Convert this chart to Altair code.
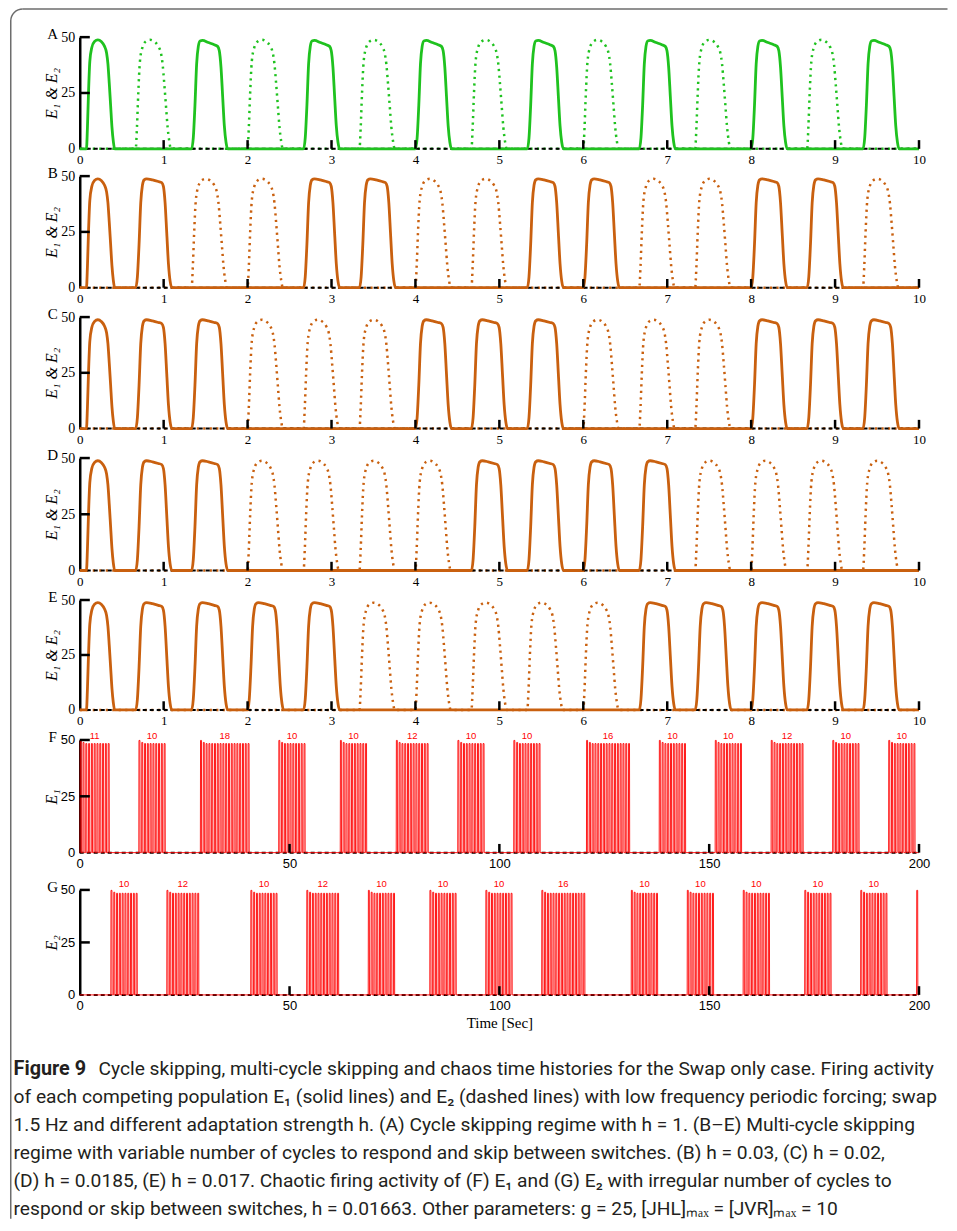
import altair as alt
import pandas as pd

# ---------------- data ----------------
# panels A-E: onset (s) of each forcing cycle (1.5 Hz swap) and which population answers it
onsets_AE = [0.08, 0.667, 1.333, 2.0, 2.667, 3.333, 4.0, 4.667, 5.333, 6.0, 6.667, 7.333, 8.0, 8.667, 9.333]
owner_A = [1, 2, 1, 2, 1, 2, 1, 2, 1, 2, 1, 2, 1, 2, 1]
owner_B = [1, 1, 2, 2, 1, 1, 2, 2, 1, 1, 2, 2, 1, 1, 2]
owner_C = [1, 1, 1, 2, 2, 2, 1, 1, 1, 2, 2, 2, 1, 1, 1]
owner_D = [1, 1, 1, 2, 2, 2, 2, 1, 1, 1, 1, 2, 2, 2, 2]
owner_E = [1, 1, 1, 1, 1, 2, 2, 2, 2, 2, 1, 1, 1, 1, 1]
peak_AE = 48.8

# pulse outlines (time after onset, fraction of peak)
flat_dt = [0, 0.02, 0.04, 0.06, 0.08, 0.10, 0.13, 0.20, 0.27, 0.31, 0.33, 0.35, 0.37, 0.39, 0.41, 0.43]
flat_v = [0, 0.10, 0.40, 0.78, 0.94, 0.99, 1.00, 0.99, 0.975, 0.965, 0.93, 0.78, 0.50, 0.22, 0.06, 0]
flat_A_v = [0, 0.10, 0.40, 0.78, 0.94, 0.99, 0.995, 0.975, 0.955, 0.94, 0.90, 0.75, 0.48, 0.21, 0.06, 0]
round_dt = [0, 0.015, 0.03, 0.05, 0.08, 0.12, 0.17, 0.22, 0.27, 0.30, 0.32, 0.34, 0.36, 0.38, 0.40, 0.42]
round_v = [0, 0.20, 0.50, 0.80, 0.93, 0.985, 1.00, 0.985, 0.94, 0.88, 0.78, 0.60, 0.40, 0.20, 0.07, 0]
first_pulse_scale = 0.8

# panels F-G: alternating bursts (1 = E1, 2 = E2) and number of cycles in each
burst_who = [1, 2, 1, 2, 1, 2, 1, 2, 1, 2, 1, 2, 1, 2, 1, 2, 1, 2, 1, 2, 1, 2, 1, 2, 1, 2, 1, 2]
burst_count = [11, 10, 10, 12, 18, 10, 10, 12, 10, 10, 12, 10, 10, 10, 10, 16, 16, 10, 10, 10, 10, 10, 12, 10, 10, 10, 10, 1]
cycle_period = 0.6667
cycle_offset = 0.08
spike_dt = [0, 0.04, 0.26, 0.30]
spike_peaks = [49.8, 48.9, 48.4]  # first, second, rest of a burst

x_labels_AE = [0, 1, 2, 3, 4, 5, 6, 7, 8, 9, 10]
x_ticks_AE = [1, 2, 3, 4, 5, 6, 7, 8, 9, 10]
x_labels_FG = [0, 50, 100, 150, 200]
x_ticks_FG = [50, 100, 150, 200]
y_labels = [0, 25, 50]
y_ticks = [25, 50]

caption_bold = "Figure 9"
caption_lines = [
    "Cycle skipping, multi-cycle skipping and chaos time histories for the Swap only case. Firing activity",
    "of each competing population E\u2081 (solid lines) and E\u2082 (dashed lines) with low frequency periodic forcing; swap",
    "1.5 Hz and different adaptation strength h. (A) Cycle skipping regime with h = 1. (B\u2013E) Multi-cycle skipping",
    "regime with variable number of cycles to respond and skip between switches. (B) h = 0.03, (C) h = 0.02,",
    "(D) h = 0.0185, (E) h = 0.017. Chaotic firing activity of (F) E\u2081 and (G) E\u2082 with irregular number of cycles to",
    "respond or skip between switches, h = 0.01663. Other parameters: g = 25, [JHL]\u2098\u2090\u2093 = [JVR]\u2098\u2090\u2093 = 10",
]

# ---------------- styling / layout ----------------
SERIF = "Liberation Serif"
SANS = "Liberation Sans"
GREEN = "#1fc21f"
ORANGE = "#c9600f"
RED = "#ff0000"
W = 839.5
# page y of the 50-line and of the 0-line of every panel
tops = [38.3, 176.7, 317.5, 458.5, 600.0, 740.0, 890.0]
zeros = [150.0, 288.3, 429.0, 571.0, 710.0, 852.7, 995.0]


def pulse_series(owner, who, flat_vals):
    ts, vs = [0.0], [0.0]
    for k, (t0, o) in enumerate(zip(onsets_AE, owner)):
        if o != who:
            continue
        if k == 0:
            dts, vals = [d * first_pulse_scale for d in round_dt], round_v
        elif who == 1:
            dts, vals = flat_dt, flat_vals
        else:
            dts, vals = round_dt, round_v
        for d, v in zip(dts, vals):
            ts.append(t0 + d)
            vs.append(peak_AE * v)
    ts.append(10.0)
    vs.append(0.0)
    return pd.DataFrame({"t": ts, "v": vs, "i": range(len(ts))})


def spike_series(who):
    ts, vs = [0.0], [0.0]
    k = 0
    for w, n in zip(burst_who, burst_count):
        for j in range(n):
            if w == who:
                h = spike_peaks[min(j, 2)]
                t0 = cycle_offset + (k + j) * cycle_period
                for d, f in zip(spike_dt, [0, 1, 1, 0]):
                    ts.append(t0 + d)
                    vs.append(h * f)
        k += n
    ts.append(200.0)
    vs.append(0.0)
    return pd.DataFrame({"t": ts, "v": vs, "i": range(len(ts))})


def burst_labels(who):
    rows = []
    k = 0
    for w, n in zip(burst_who, burst_count):
        if w == who and n > 1:
            c = cycle_offset + (k + (n - 1) / 2) * cycle_period + 0.15
            rows.append({"t": c, "v": 50, "lab": str(n)})
        k += n
    return pd.DataFrame(rows)


def make_panel(idx, letter, kind, owner=None, color=None, flat_vals=None, who=None,
               ytitle="", last=False, lab_dy=-0.5):
    top, zero = tops[idx], zeros[idx]
    plot_h = zero - top
    slot = (tops[idx + 1] - top) if idx + 1 < len(tops) else plot_h
    if kind == "AE":
        xmax, xlabs, xt, lab_font, tick_xlen = 10, x_labels_AE, x_ticks_AE, SERIF, 0.12
    else:
        xmax, xlabs, xt, lab_font, tick_xlen = 200, x_labels_FG, x_ticks_FG, SANS, 2.4
    tick_ylen = 8.7 / plot_h * 50

    x = alt.X("t:Q", scale=alt.Scale(domain=[0, xmax], nice=False, zero=False),
              axis=alt.Axis(values=xlabs, domain=False, ticks=False, tickSize=0, grid=False,
                            labelFont=lab_font, labelFontSize=13,
                            labelColor="black", labelPadding=5, labelFlush=False,
                            offset=-(slot - plot_h),
                            title="Time [Sec]" if last else None,
                            titleFont=SERIF, titleFontSize=15, titleFontWeight="normal",
                            titleColor="black", titlePadding=3))
    y = alt.Y("v:Q", scale=alt.Scale(domain=[0, 50], range=[plot_h, 0], nice=False),
              axis=alt.Axis(values=y_labels, domain=True, domainColor="black", domainWidth=2.5,
                            ticks=False, tickSize=0, grid=False,
                            labelFont=lab_font, labelFontSize=14 if kind == "AE" else 13,
                            labelColor="black", labelPadding=5,
                            title=ytitle, titleFont=SERIF, titleFontSize=16,
                            titleFontStyle="italic", titleFontWeight="normal", titleColor="black",
                            titleAngle=270, titleX=-28, titleY=plot_h / 2, titleBaseline="middle"))

    base_df = pd.DataFrame({"t": [0, xmax], "v": [0, 0], "i": [0, 1]})
    xt_df = pd.DataFrame({"t": xt, "v": [0] * len(xt), "v2": [tick_ylen] * len(xt)})
    yt_df = pd.DataFrame({"t": [0] * len(y_ticks), "t2": [tick_xlen] * len(y_ticks), "v": y_ticks})
    let_df = pd.DataFrame({"v": [50], "lab": [letter]})

    layers = []
    if kind == "AE":
        e1 = pulse_series(owner, 1, flat_vals)
        e2 = pulse_series(owner, 2, flat_vals)
        layers.append(alt.Chart(e2).mark_line(color=color, strokeWidth=2.5, strokeDash=[2.2, 4.3],
                                              interpolate="monotone")
                      .encode(x=x, y=y, order="i:Q"))
        layers.append(alt.Chart(base_df).mark_line(color="black", strokeWidth=2, strokeDash=[4, 3])
                      .encode(x=x, y=y, order="i:Q"))
        layers.append(alt.Chart(e1).mark_line(color=color, strokeWidth=2.8, interpolate="monotone")
                      .encode(x=x, y=y, order="i:Q"))
    else:
        sp = spike_series(who)
        layers.append(alt.Chart(base_df).mark_line(color="black", strokeWidth=2, strokeDash=[4, 3])
                      .encode(x=x, y=y, order="i:Q"))
        layers.append(alt.Chart(sp).mark_line(color=RED, strokeWidth=0.9)
                      .encode(x=x, y=y, order="i:Q"))
        layers.append(alt.Chart(burst_labels(who)).mark_text(color=RED, font=SANS, fontSize=9.5,
                                                            baseline="alphabetic", dy=lab_dy)
                      .encode(x=x, y=y, text="lab:N"))
    layers.append(alt.Chart(xt_df).mark_rule(color="black", strokeWidth=2.5)
                  .encode(x=x, y=y, y2=alt.Y2("v2:Q")))
    layers.append(alt.Chart(yt_df).mark_rule(color="black", strokeWidth=2.5)
                  .encode(x=x, x2=alt.X2("t2:Q"), y=y))
    layers.append(alt.Chart(let_df).mark_text(font=SERIF, fontSize=15, color="black",
                                              align="center", baseline="middle", dy=-3)
                  .encode(x=alt.value(-27), y=y, text="lab:N"))
    return alt.layer(*layers).properties(width=W, height=slot)


panels = [
    make_panel(0, "A", "AE", owner_A, GREEN, flat_A_v, ytitle="E\u2081 & E\u2082"),
    make_panel(1, "B", "AE", owner_B, ORANGE, flat_v, ytitle="E\u2081 & E\u2082"),
    make_panel(2, "C", "AE", owner_C, ORANGE, flat_v, ytitle="E\u2081 & E\u2082"),
    make_panel(3, "D", "AE", owner_D, ORANGE, flat_v, ytitle="E\u2081 & E\u2082"),
    make_panel(4, "E", "AE", owner_E, ORANGE, flat_v, ytitle="E\u2081 & E\u2082"),
    make_panel(5, "F", "FG", who=1, ytitle="E\u2081", lab_dy=-0.5),
    make_panel(6, "G", "FG", who=2, ytitle="E\u2082", last=True, lab_dy=-3.3),
]

# ---------------- caption panel (starts at page y = zeros[-1]) ----------------
cap_df = pd.DataFrame({"line": list(range(len(caption_lines))), "txt": caption_lines,
                       "xo": [18.8] + [-66.2] * (len(caption_lines) - 1)})
cy = alt.Y("line:Q", scale=alt.Scale(domain=[0, 5], range=[74, 214]), axis=None)
one = pd.DataFrame({"a": [0]})
cap_font = "Roboto"
cap_size = 19.2
caption = alt.layer(
    alt.Chart(cap_df).mark_text(font=cap_font, fontSize=cap_size, color="#231f20", align="left",
                                baseline="middle")
    .encode(x=alt.X("xo:Q", scale=None), y=cy, text="txt:N"),
    alt.Chart(pd.DataFrame({"line": [0], "txt": [caption_bold]}))
    .mark_text(font=cap_font, fontSize=cap_size + 0.6, fontWeight="bold", color="#231f20",
               align="left", baseline="middle")
    .encode(x=alt.value(-66.2), y=cy, text="txt:N"),
    # figure frame
    alt.Chart(one).mark_rule(color="#6d6d6d", strokeWidth=1.5)
    .encode(x=alt.value(-69.0), y=alt.value(-974.25), y2=alt.value(224)),
    alt.Chart(one).mark_rule(color="#6d6d6d", strokeWidth=1.5)
    .encode(x=alt.value(-57.0), x2=alt.value(868.0), y=alt.value(-986.25)),
    alt.Chart(one).mark_arc(color="#6d6d6d", radius=12.75, radius2=11.25,
                            theta=4.71239, theta2=6.28319)
    .encode(x=alt.value(-57.0), y=alt.value(-974.25)),
).properties(width=W, height=215)

chart = alt.vconcat(*panels, caption, spacing=0, bounds="flush").properties(
    padding={"left": 1.75, "top": 0, "right": 0, "bottom": 0}
).configure_view(stroke=None)

chart.save("out.html", embed_options={"renderer": "svg", "actions": False})
